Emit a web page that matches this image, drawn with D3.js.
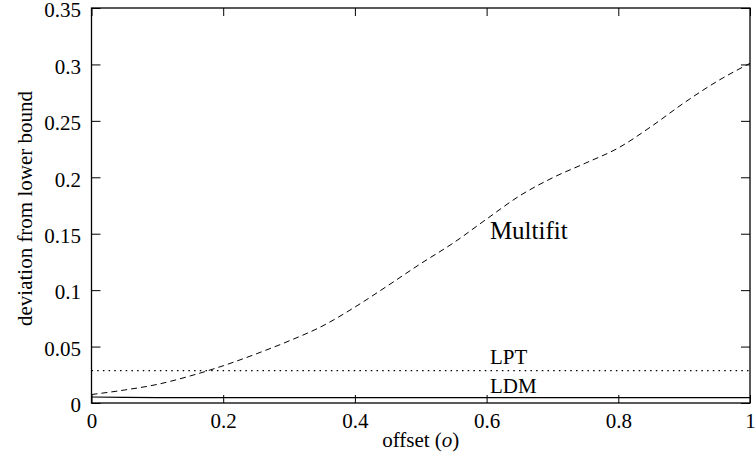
<!DOCTYPE html>
<html>
<head>
<meta charset="utf-8">
<script src="https://cdn.jsdelivr.net/npm/d3@7"></script>
<style>
  body { margin: 0; background: #fff; }
  text { font-family: "Liberation Serif", "Times New Roman", serif; fill: #000; }
</style>
</head>
<body>
<div id="chart"></div>
<script>
// offsets sampled along the x axis
const offsets = [0, 0.05, 0.1, 0.15, 0.2, 0.25, 0.3, 0.35, 0.4, 0.45, 0.5,
                 0.55, 0.6, 0.65, 0.7, 0.75, 0.8, 0.85, 0.9, 0.95, 1];
// deviation from lower bound
const multifit = [0.0075, 0.0115, 0.0165, 0.024, 0.033, 0.0435, 0.055, 0.068, 0.085, 0.104, 0.1235,
                  0.142, 0.163, 0.1835, 0.1995, 0.2125, 0.226, 0.245, 0.266, 0.285, 0.301];
const lpt = [0.0286, 0.0286, 0.0286, 0.0286, 0.0286, 0.0286, 0.0286, 0.0286, 0.0286, 0.0286, 0.0286,
             0.0286, 0.0286, 0.0286, 0.0286, 0.0286, 0.0286, 0.0286, 0.0286, 0.0286, 0.0286];
const ldm = [0.0053, 0.005, 0.0048, 0.0047, 0.0047, 0.0047, 0.0047, 0.0047, 0.0047, 0.0047, 0.0047,
             0.0047, 0.0047, 0.0047, 0.0047, 0.0047, 0.0047, 0.0047, 0.0047, 0.0047, 0.0047];

const xTicks = [0, 0.2, 0.4, 0.6, 0.8, 1];
const yTicks = [0, 0.05, 0.1, 0.15, 0.2, 0.25, 0.3, 0.35];

// label anchors in data coordinates
const labels = [
  { text: "Multifit", o: 0.605, v: 0.145, size: 25 },
  { text: "LPT", o: 0.605, v: 0.0346, size: 21 },
  { text: "LDM", o: 0.605, v: 0.0086, size: 21 }
];

const W = 756, H = 460;
const plotLeft = 91.5, plotRight = 750, plotTop = 8, plotBottom = 403;

const svg = d3.select("#chart").append("svg")
  .attr("width", W)
  .attr("height", H);

const x = d3.scaleLinear().domain([0, 1]).range([plotLeft, plotRight]);
const y = d3.scaleLinear().domain([0, 0.35]).range([plotBottom, plotTop]);

const fmt = d => String(+d.toFixed(2));

// axes with inward ticks, mirrored on top and right
let styleAxis = (g) => {
  g.select(".domain").remove();
  g.selectAll(".tick line").attr("stroke", "#000").attr("stroke-width", 1);
  g.selectAll(".tick text").style("font-size", "21px").attr("fill", "#000");
};

svg.append("g")
  .attr("transform", `translate(0,${plotBottom})`)
  .call(d3.axisBottom(x).tickValues(xTicks).tickFormat(fmt).tickSizeInner(-8).tickSizeOuter(0).tickPadding(10))
  .call(styleAxis);

svg.append("g")
  .attr("transform", `translate(0,${plotTop})`)
  .call(d3.axisTop(x).tickValues(xTicks).tickFormat("").tickSizeInner(-8).tickSizeOuter(0))
  .call(styleAxis);

svg.append("g")
  .attr("transform", `translate(${plotLeft},0)`)
  .call(d3.axisLeft(y).tickValues(yTicks).tickFormat(fmt).tickSizeInner(-9).tickSizeOuter(0).tickPadding(10.5))
  .call(styleAxis)
  .selectAll(".tick text").attr("dy", "0.42em");

svg.append("g")
  .attr("transform", `translate(${plotRight},0)`)
  .call(d3.axisRight(y).tickValues(yTicks).tickFormat("").tickSizeInner(-9).tickSizeOuter(0))
  .call(styleAxis);

// frame
svg.append("rect")
  .attr("x", plotLeft)
  .attr("y", plotTop)
  .attr("width", plotRight - plotLeft)
  .attr("height", plotBottom - plotTop)
  .attr("fill", "none")
  .attr("stroke", "#000")
  .attr("stroke-width", 1.3);

const line = d3.line()
  .x((d, i) => x(offsets[i]))
  .y(d => y(d))
  .curve(d3.curveMonotoneX);

svg.append("path")
  .datum(multifit)
  .attr("fill", "none")
  .attr("stroke", "#000")
  .attr("stroke-width", 1)
  .attr("stroke-dasharray", "6,4")
  .attr("d", line);

svg.append("path")
  .datum(lpt)
  .attr("fill", "none")
  .attr("stroke", "#000")
  .attr("stroke-width", 1.2)
  .attr("stroke-dasharray", "1.5,4.2")
  .attr("d", line);

svg.append("path")
  .datum(ldm)
  .attr("fill", "none")
  .attr("stroke", "#000")
  .attr("stroke-width", 1.2)
  .attr("d", line);

svg.selectAll(".series-label")
  .data(labels)
  .enter().append("text")
  .attr("class", "series-label")
  .attr("x", d => x(d.o))
  .attr("y", d => y(d.v))
  .style("font-size", d => d.size + "px")
  .text(d => d.text);

// axis titles
const xt = svg.append("text")
  .attr("x", (plotLeft + plotRight) / 2)
  .attr("y", 447)
  .attr("text-anchor", "middle")
  .style("font-size", "21px");
xt.append("tspan").text("offset (");
xt.append("tspan").style("font-style", "italic").text("o");
xt.append("tspan").text(")");

svg.append("text")
  .attr("transform", `translate(32,${(plotTop + plotBottom) / 2 + 3}) rotate(-90)`)
  .attr("text-anchor", "middle")
  .style("font-size", "21px")
  .text("deviation from lower bound");
</script>
</body>
</html>
